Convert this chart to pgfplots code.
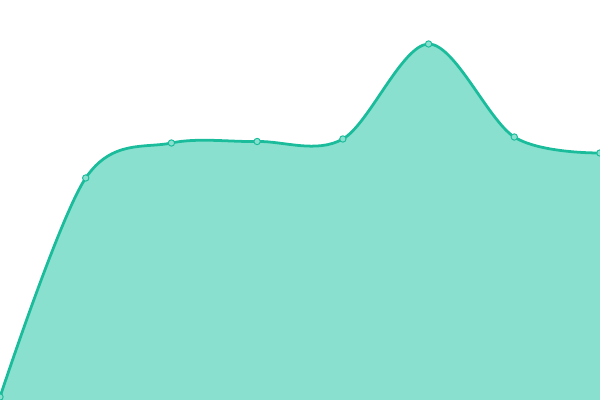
\documentclass[border=0pt]{standalone}
\usepackage{pgfplots}
\pgfplotsset{compat=1.18}
\definecolor{linec}{RGB}{26,188,156}
\definecolor{fillc}{RGB}{138,224,207}

\begin{document}
\begin{tikzpicture}
  \begin{axis}[
    width=6in, height=4in, scale only axis,
    xmin=0, xmax=7, ymin=0, ymax=400,
    axis lines=none, clip=true, clip marker paths=true,
  ]
    \addplot[draw=none, fill=fillc, smooth, tension=0.55] coordinates {
      (0,3) (1,222) (2,257) (3,258.5) (4,261) (5,356) (6,263) (7,247)
    } \closedcycle;
    \addplot[linec, line width=2pt, smooth, tension=0.55,
      mark=*, mark size=2.3pt,
      mark options={fill=fillc, draw=linec, line width=0.7pt}] coordinates {
      (0,3) (1,222) (2,257) (3,258.5) (4,261) (5,356) (6,263) (7,247)
    };
  \end{axis}
  \pgfresetboundingbox
  \path (current axis.south west) rectangle (current axis.north east);
\end{tikzpicture}
\end{document}
